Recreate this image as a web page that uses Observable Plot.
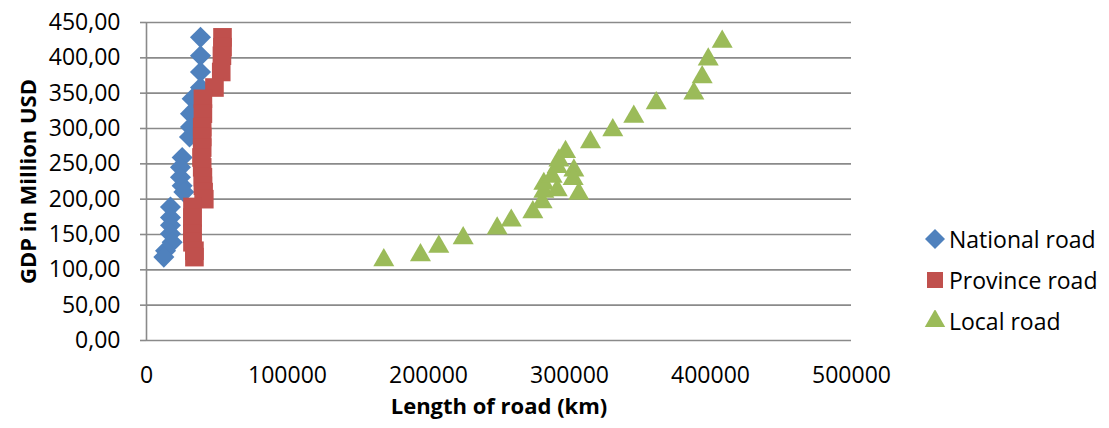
<!DOCTYPE html>
<html>
<head>
<meta charset="utf-8">
<script src="https://cdn.jsdelivr.net/npm/d3@7"></script>
<script src="https://cdn.jsdelivr.net/npm/@observablehq/plot@0.6"></script>
<style>
  html, body { margin: 0; padding: 0; background: #fff; }
  #wrap { position: relative; width: 1109px; height: 428px; font-family: "Open Sans", sans-serif; }
  #legend { position: absolute; left: 924px; top: 218px; font-size: 23px; color: #000; }
  .item { display: flex; align-items: center; height: 41px; }
  .item svg { margin-right: 3px; }
</style>
</head>
<body>
<div id="wrap"><div id="chart"></div><div id="legend"></div></div>
<script>
// Series names and colours
const seriesNames = ["National road", "Province road", "Local road"];
const seriesColors = ["#4F81BD", "#C0504D", "#9BBB59"];
const seriesSymbols = ["diamond2", "square", "triangle"];

// National road: length (km) and GDP (million USD)
const nationalLength = [38300, 38300, 38300, 38300, 32400, 31200, 31200, 30500, 25300, 24100, 24100, 25300, 26500, 17000, 17000, 17000, 17000, 18200, 13500, 12300];
const nationalGDP    = [429, 403, 380, 358, 342, 321, 302, 288, 259, 245, 231, 219, 210, 189, 174, 163, 151, 139, 127, 118];

// Province road
const provinceLength = [53900, 53900, 53500, 53000, 48200, 40000, 40000, 39500, 39500, 39500, 39000, 39500, 40000, 40000, 40500, 41000, 32600, 32600, 32600, 32600, 32600, 34000, 34000];
const provinceGDP    = [429, 415, 403, 380, 358, 342, 321, 302, 288, 273, 259, 245, 231, 219, 210, 200, 189, 174, 163, 151, 139, 127, 118];

// Local road
const localLength = [168300, 194300, 207300, 224600, 248700, 258700, 274000, 280600, 281800, 281800, 291300, 287700, 291300, 292500, 297200, 303100, 302600, 306600, 314900, 330700, 345600, 361500, 388200, 394100, 398400, 408300];
const localGDP    = [118, 125, 137, 149, 163, 174, 186, 200, 215, 226, 217, 236, 250, 259, 271, 245, 233, 212, 285, 302, 321, 340, 354, 377, 402, 427];

// Axis ticks
const yTicks = [0, 50, 100, 150, 200, 250, 300, 350, 400, 450];
const xTicks = [0, 100000, 200000, 300000, 400000, 500000];
const xTitle = "Length of road (km)";
const yTitle = "GDP in Million USD";

const mk = (xs, ys, s) => xs.map((x, i) => ({length: x, gdp: ys[i], series: s}));
const national = mk(nationalLength, nationalGDP, seriesNames[0]);
const province = mk(provinceLength, provinceGDP, seriesNames[1]);
const local = mk(localLength, localGDP, seriesNames[2]);

const grid = "#8a8a8a";
const fmtY = d => d.toFixed(2).replace(".", ",");

const chart = Plot.plot({
  width: 1109,
  height: 428,
  marginLeft: 146,
  marginRight: 258,
  marginTop: 22,
  marginBottom: 88,
  style: { fontFamily: "'Open Sans', sans-serif", fontSize: "23px", color: "#000", background: "#fff", overflow: "visible" },
  x: { domain: [0, 500000] },
  y: { domain: [0, 450] },
  marks: [
    Plot.gridY(yTicks.filter(d => d > 0), { stroke: grid, strokeOpacity: 1, strokeWidth: 1.6 }),
    Plot.ruleY([0], { stroke: grid, strokeWidth: 1.6 }),
    Plot.ruleX([0], { stroke: grid, strokeWidth: 1.6 }),
    Plot.axisY(yTicks, { tickSize: 6, tickPadding: 20, tickFormat: fmtY, stroke: grid, strokeWidth: 1.6, label: null, fontSize: 23, fill: "#000" }),
    Plot.axisX(xTicks, { tickSize: 0, tickPadding: 26, tickFormat: d => String(d), label: null, fontSize: 23, fill: "#000" }),
    Plot.text([yTitle], { frameAnchor: "left", textAnchor: "middle", rotate: -90, dx: -118, fontWeight: "bold", fontSize: 22, fill: "#000" }),
    Plot.text([xTitle], { frameAnchor: "bottom", textAnchor: "middle", dy: 73, fontWeight: "bold", fontSize: 22, fill: "#000" }),
    Plot.dot(national, { x: "length", y: "gdp", symbol: () => seriesSymbols[0], fill: seriesColors[0], r: 9.5 }),
    Plot.dot(province, { x: "length", y: "gdp", symbol: () => seriesSymbols[1], fill: seriesColors[1], r: 10.5 }),
    Plot.dot(local, { x: "length", y: "gdp", symbol: () => seriesSymbols[2], fill: seriesColors[2], r: 7.8, dy: 3 })
  ]
});
document.getElementById("chart").appendChild(chart);

// Legend
const legend = d3.select("#legend");
const symMap = { diamond2: d3.symbolDiamond2, square: d3.symbolSquare, triangle: d3.symbolTriangle };
const symSize = [255, 256, 181];
seriesNames.forEach((name, i) => {
  const item = legend.append("div").attr("class", "item");
  const svg = item.append("svg").attr("width", 22).attr("height", 22);
  svg.append("path")
    .attr("transform", "translate(11,11)")
    .attr("d", d3.symbol(symMap[seriesSymbols[i]], symSize[i])())
    .attr("fill", seriesColors[i]);
  item.append("span").text(name);
});
</script>
</body>
</html>
